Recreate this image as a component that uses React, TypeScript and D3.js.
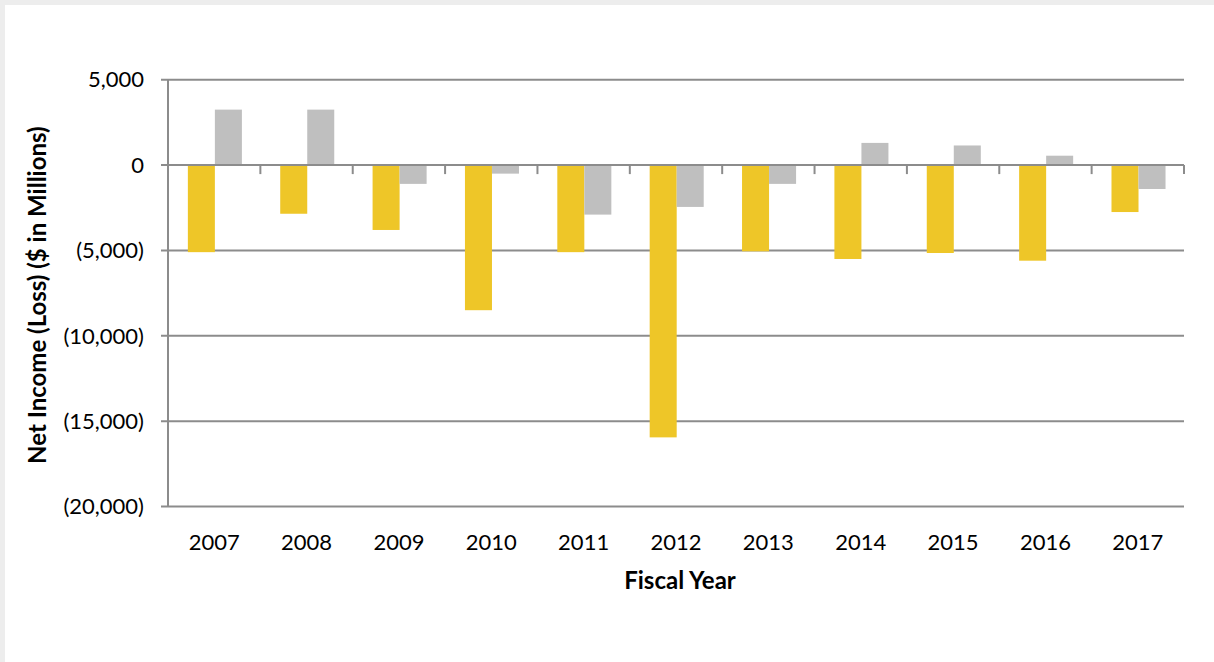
import React from "react";
import * as d3 from "d3";

const years = ["2007","2008","2009","2010","2011","2012","2013","2014","2015","2016","2017"];
const netIncome = [-5100,-2850,-3800,-8500,-5100,-15950,-5050,-5500,-5150,-5600,-2750];
const controllable = [3250,3250,-1100,-500,-2900,-2450,-1100,1300,1150,550,-1400];
const yTicks = [5000,0,-5000,-10000,-15000,-20000];
const seriesKeys = ["net","controllable"];
const seriesColors = ["#EEC628","#BFBFBF"];

const W = 1214, H = 662;
const m = { left: 168, right: 1184, top: 79.75, bottom: 506.5 };
const FONT = "Lato, 'Open Sans', sans-serif";

export default function App() {
  const x0 = d3.scaleBand<string>().domain(years).range([m.left, m.right]).padding(0);
  const bw = x0.bandwidth();
  const x1 = d3.scaleBand<string>().domain(seriesKeys).range([bw * 0.215, bw * 0.8]).padding(0);
  const y = d3.scaleLinear().domain([-20000, 5000]).range([m.bottom, m.top]);
  const fmt = (v: number) => (v < 0 ? `(${d3.format(",")(-v)})` : d3.format(",")(v));
  const data = [netIncome, controllable];
  const y0 = y(0);
  const grid = "#8C8C8C";
  return (
    <div style={{ position: "fixed", left: 0, top: 0, width: W, height: H, background: "#EDEDED" }}>
      <svg width={W} height={H} style={{ display: "block" }}>
        <rect x={5} y={5} width={W - 5} height={H - 5} fill="#fff" />
        {yTicks.map((t) => (
          <g key={t}>
            <line x1={m.left - 7} x2={m.right} y1={y(t)} y2={y(t)} stroke={grid} strokeWidth={2} />
            <text x={m.left - 24} y={y(t)} dy="0.35em" textAnchor="end" fontFamily={FONT} fontSize={22} fill="#000">{fmt(t)}</text>
          </g>
        ))}
        <line x1={m.left} x2={m.left} y1={m.top} y2={m.bottom} stroke={grid} strokeWidth={2} />
        {years.map((yr, i) =>
          data.map((s, j) => {
            const v = s[i];
            return (
              <rect key={yr + j} x={(x0(yr) as number) + (x1(seriesKeys[j]) as number)} width={x1.bandwidth()}
                y={Math.min(y(v), y0)} height={Math.abs(y(v) - y0)} fill={seriesColors[j]} />
            );
          })
        )}
        <line x1={m.left} x2={m.right} y1={y0} y2={y0} stroke={grid} strokeWidth={2} />
        {years.map((yr) => (
          <line key={"t" + yr} x1={(x0(yr) as number) + bw} x2={(x0(yr) as number) + bw} y1={y0} y2={y0 + 9} stroke={grid} strokeWidth={2} />
        ))}
        {years.map((yr) => (
          <text key={"l" + yr} x={(x0(yr) as number) + bw / 2} y={542} dy="0.35em" textAnchor="middle" fontFamily={FONT} fontSize={22} fill="#000">{yr}</text>
        ))}
        <text x={(m.left + m.right) / 2 + 4} y={581} dy="0.35em" textAnchor="middle" fontFamily={FONT} fontWeight="bold" fontSize={24} fill="#000">Fiscal Year</text>
        <text transform={`translate(38, ${(m.top + m.bottom) / 2 + 2}) rotate(-90)`} textAnchor="middle" dy="0.35em" fontFamily={FONT} fontWeight="bold" fontSize={24} fill="#000">Net Income (Loss) ($ in Millions)</text>
      </svg>
    </div>
  );
}
